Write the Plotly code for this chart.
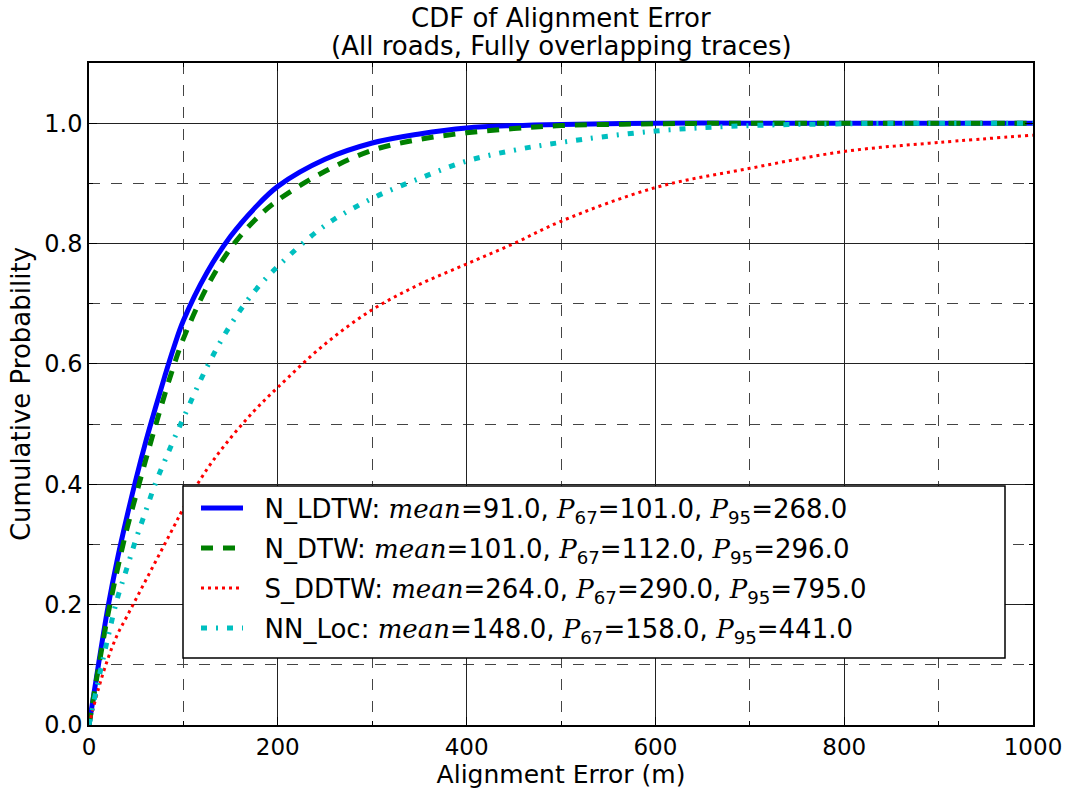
import plotly.graph_objects as go

# ---- data ----
x_grid = [0, 10, 20, 30, 40, 50, 60, 70, 80, 90, 100, 125, 150, 175, 200,
          250, 300, 350, 400, 450, 500, 600, 700, 800, 900, 1000]

y_ldtw = [0, 0.10, 0.195, 0.275, 0.345, 0.41, 0.47, 0.525, 0.578, 0.628, 0.672,
          0.752, 0.812, 0.858, 0.895, 0.94, 0.967, 0.982, 0.992, 0.996, 0.998,
          1.0, 1.0, 1.0, 1.0, 1.0]
y_dtw = [0, 0.095, 0.183, 0.258, 0.325, 0.383, 0.44, 0.495, 0.548, 0.598, 0.642,
         0.728, 0.792, 0.838, 0.872, 0.92, 0.955, 0.973, 0.984, 0.991, 0.996,
         0.999, 1.0, 1.0, 1.0, 1.0]
y_sddtw = [0, 0.06, 0.11, 0.15, 0.18, 0.21, 0.24, 0.27, 0.30, 0.33, 0.36,
           0.425, 0.477, 0.522, 0.561, 0.633, 0.69, 0.732, 0.766, 0.80, 0.837,
           0.893, 0.925, 0.953, 0.968, 0.98]
y_nnloc = [0, 0.075, 0.145, 0.21, 0.26, 0.31, 0.355, 0.40, 0.438, 0.475, 0.51,
           0.595, 0.665, 0.72, 0.762, 0.83, 0.875, 0.908, 0.937, 0.955, 0.968,
           0.987, 0.996, 0.999, 1.0, 1.0]

names = ["N_LDTW", "N_DTW", "S_DDTW", "NN_Loc"]
means = [91.0, 101.0, 264.0, 148.0]
p67 = [101.0, 112.0, 290.0, 158.0]
p95 = [268.0, 296.0, 795.0, 441.0]

x_ticks = [0, 200, 400, 600, 800, 1000]
y_ticks = [0.0, 0.2, 0.4, 0.6, 0.8, 1.0]

title_lines = ["CDF of Alignment Error", "(All roads, Fully overlapping traces)"]

SERIF = "font-family:'DejaVu Serif','Liberation Serif',serif;font-style:italic"


def label(i):
    return (f"&nbsp;&nbsp;{names[i]}: <span style=\"{SERIF}\">mean</span>={means[i]:.1f}, "
            f"<span style=\"{SERIF}\">P</span><sub>67</sub>={p67[i]:.1f}, "
            f"<span style=\"{SERIF}\">P</span><sub>95</sub>={p95[i]:.1f}")


series = [
    (y_ldtw, dict(color="#0000ff", width=5, dash="solid")),
    (y_dtw, dict(color="#008000", width=5, dash="12px,10px")),
    (y_sddtw, dict(color="#ff0000", width=3, dash="3px,4px")),
    (y_nnloc, dict(color="#00bfbf", width=5, dash="6px,9px,2px,9px")),
]

legend_ids = ["legend", "legend2", "legend3", "legend4"]

fig = go.Figure()
for i, (ys, ln) in enumerate(series):
    fig.add_trace(go.Scatter(x=x_grid, y=ys, mode="lines", name=label(i),
                             legend=legend_ids[i],
                             line=dict(shape="spline", smoothing=1.0, **ln)))

FONT = "DejaVu Sans, sans-serif"


# plot area in pixels: x 89..1033, y 63..725
def px_to_paper_x(px):
    return (px - 89) / 944.0


def px_to_paper_y(py):
    return (725 - py) / 662.0


annotations = [
    dict(text=title_lines[0], x=0.5, xref="paper", y=px_to_paper_y(18), yref="paper",
         xanchor="center", yanchor="middle", showarrow=False, font=dict(size=26)),
    dict(text=title_lines[1], x=0.5, xref="paper", y=px_to_paper_y(46), yref="paper",
         xanchor="center", yanchor="middle", showarrow=False, font=dict(size=26)),
]

shapes = [
    dict(type="rect", xref="paper", yref="paper",
         x0=px_to_paper_x(183), x1=px_to_paper_x(1005),
         y0=px_to_paper_y(658), y1=px_to_paper_y(486),
         line=dict(color="black", width=1.5), fillcolor="white", layer="above"),
]

row_centers = [508, 548, 588, 628]
legends = {}
for lid, yc in zip(legend_ids, row_centers):
    legends[lid] = dict(x=px_to_paper_x(196), y=px_to_paper_y(yc), xanchor="left",
                        yanchor="middle", bgcolor="rgba(0,0,0,0)", borderwidth=0,
                        font=dict(size=26), itemwidth=42, tracegroupgap=0)

fig.update_layout(
    template="none",
    width=1075, height=789,
    margin=dict(l=89, r=42, t=63, b=64, autoexpand=False),
    paper_bgcolor="white", plot_bgcolor="white",
    font=dict(family=FONT, size=20, color="black"),
    annotations=annotations,
    shapes=shapes,
    showlegend=True,
    **legends,
)

common = dict(showline=True, linecolor="black", linewidth=1.5, mirror="ticks",
              ticks="inside", ticklen=8, tickcolor="black", tickwidth=1,
              showgrid=True, gridcolor="#222222", gridwidth=1,
              zeroline=False, automargin=False)

fig.update_xaxes(
    range=[0, 1000], tickvals=x_ticks, ticktext=[str(v) for v in x_ticks],
    minor=dict(dtick=100, showgrid=True, gridcolor="#444444", gridwidth=1, griddash="11px,11px",
               ticks="inside", ticklen=4, tickcolor="black"),
    title=dict(text="Alignment Error (m)", standoff=5, font=dict(size=25)),
    ticklabelstandoff=1, tickfont=dict(size=23),
    **common,
)
fig.update_yaxes(
    range=[0, 1.1], tickvals=y_ticks, ticktext=[f"{v:.1f}" for v in y_ticks],
    minor=dict(dtick=0.1, showgrid=True, gridcolor="#444444", gridwidth=1, griddash="11px,11px",
               ticks="inside", ticklen=4, tickcolor="black"),
    title=dict(text="Cumulative Probability", standoff=6, font=dict(size=26)),
    tickfont=dict(size=24),
    **common,
)

fig.write_html("out.html")
